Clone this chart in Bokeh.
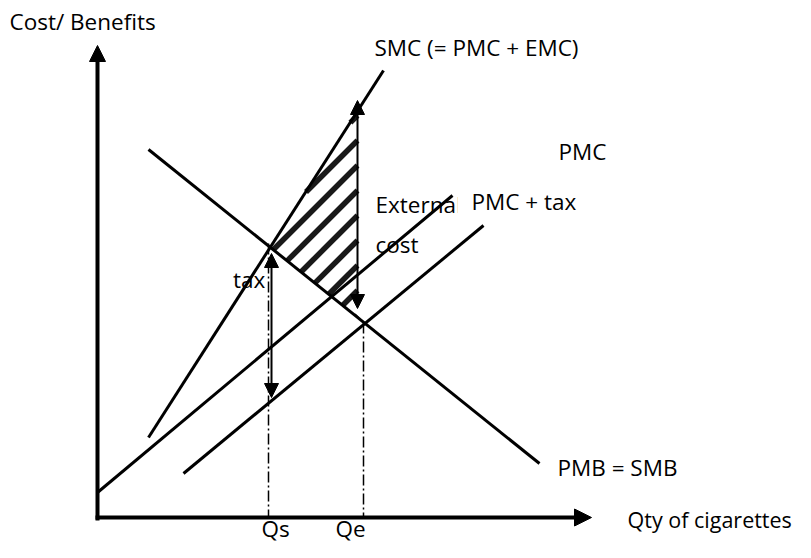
import numpy as np
from bokeh.plotting import figure
from bokeh.models import Range1d, Arrow, NormalHead, Label
from bokeh.embed import file_html
from bokeh.resources import INLINE

# ---- data (quantity, cost/benefit units) ----
smc_q = [5.1, 28.6]
smc_p = [8.0, 44.7]
pmb_q = [5.1, 44.2]
pmb_p = [36.8, 5.4]
pmc_tax_q = [0.0, 35.5]
pmc_tax_p = [2.5, 32.2]
pmc_q = [8.6, 38.6]
pmc_p = [4.4, 29.2]

q_social = 17.1      # Qs
p_social = 27.4
q_market = 26.6      # Qe
p_market = 19.5

tax_q = 17.4
tax_top = 26.4
tax_bottom = 12.0

ext_q = 26.0
ext_top = 41.7
ext_bottom = 20.9

hatch_q = [17.3, 26.0, 26.0]
hatch_p = [27.0, 40.6, 20.0]

axis_x_end = 49.4
axis_y_end = 47.2

FONT = "Open Sans"
FS = "22.5px"

p = figure(width=795, height=542, output_backend="svg", toolbar_location=None,
           x_range=Range1d(-9.7, 69.8), y_range=Range1d(-2.5, 51.7),
           min_border=0, outline_line_color=None)
p.axis.visible = False
p.grid.visible = False

# hatched external-cost area: 45-degree stripes clipped to the triangle
def clip_stripe(c, qs, ps):
    pts = []
    n = len(qs)
    for i in range(n):
        x1, y1 = qs[i], ps[i]
        x2, y2 = qs[(i + 1) % n], ps[(i + 1) % n]
        f1, f2 = y1 - x1, y2 - x2
        if f1 == f2:
            continue
        t = (c - f1) / (f2 - f1)
        if 0 <= t <= 1:
            pts.append((x1 + t * (x2 - x1), y1 + t * (y2 - y1)))
    if len(pts) < 2:
        return None
    pts.sort()
    return pts[0], pts[-1]

offs = [y - x for x, y in zip(hatch_q, hatch_p)]
stripe_xs, stripe_ys = [], []
c = 11.7 + 2.5
while c > min(offs):
    if c < max(offs):
        seg = clip_stripe(c, hatch_q, hatch_p)
        if seg:
            stripe_xs.append([seg[0][0], seg[1][0]])
            stripe_ys.append([seg[0][1], seg[1][1]])
    c -= 2.5
p.multi_line(stripe_xs, stripe_ys, line_color="black", line_width=5.5, line_alpha=0.9)

# curves
for xs, ys in [(smc_q, smc_p), (pmb_q, pmb_p), (pmc_tax_q, pmc_tax_p), (pmc_q, pmc_p)]:
    p.line(xs, ys, line_color="black", line_width=3)

# dash-dot guides
p.line([q_social, q_social], [p_social, 0], line_color="black", line_width=1.5,
       line_dash="11 3 2 3")
p.line([q_market, q_market], [p_market, 0], line_color="black", line_width=1.5,
       line_dash="11 3 2 3")

# axes as arrows
p.add_layout(Arrow(end=NormalHead(size=16, fill_color="black", line_color="black"),
                   x_start=0, y_start=-0.3, x_end=0, y_end=axis_y_end,
                   line_width=4, line_color="black"))
p.add_layout(Arrow(end=NormalHead(size=17, fill_color="black", line_color="black"),
                   x_start=-0.2, y_start=0, x_end=axis_x_end, y_end=0,
                   line_width=4, line_color="black"))

# tax arrow
p.add_layout(Arrow(start=NormalHead(size=14, fill_color="black", line_color="black"),
                   end=NormalHead(size=14, fill_color="black", line_color="black"),
                   x_start=tax_q, y_start=tax_bottom, x_end=tax_q, y_end=tax_top,
                   line_width=2, line_color="black"))
# external cost arrow
p.add_layout(Arrow(start=NormalHead(size=14, fill_color="black", line_color="black"),
                   end=NormalHead(size=14, fill_color="black", line_color="black"),
                   x_start=ext_q, y_start=ext_bottom, x_end=ext_q, y_end=ext_top,
                   line_width=2, line_color="black"))

DY = 0.85  # baseline correction

def lab(x, y, t, size=FS, **kw):
    p.add_layout(Label(x=x, y=y + DY, text=t, text_font=FONT, text_font_size=size,
                       text_color="black", text_baseline="alphabetic",
                       text_align="left", **kw))

lab(-8.8, 48.8, "Cost/ Benefits")
lab(27.7, 46.2, "SMC (= PMC + EMC)")
lab(46.1, 35.8, "PMC")
lab(27.8, 30.5, "External")
lab(27.8, 26.5, "cost")
lab(36.0, 30.8, "PMC + tax", background_fill_color="white",
    padding=dict(left=14, right=2, top=0, bottom=0))
lab(13.55, 23.0, "tax")
lab(46.0, 4.2, "PMB = SMB")
lab(53.0, -1.0, "Qty of cigarettes", size="21.5px")
lab(16.4, -1.9, "Qs")
lab(23.8, -1.9, "Qe")

open("out.html", "w").write(file_html(p, INLINE))
